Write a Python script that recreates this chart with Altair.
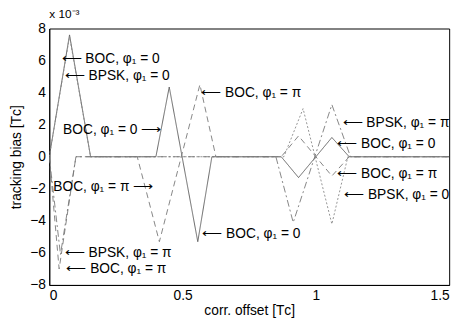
import altair as alt
import pandas as pd

# ---- data (values in units of 1e-3 T_C) ----
series_names = ["BOC0", "BOCpi", "BPSK0", "BPSKpi"]

boc0_x = [0, 0.076, 0.155, 0.40, 0.45, 0.557, 0.61, 0.87, 0.935, 1.06, 1.125, 1.5]
boc0_y = [0, 7.6, 0, 0, 4.35, -5.3, 0, 0, -1.3, 1.2, 0, 0]

bocpi_x = [0, 0.037, 0.10, 0.33, 0.413, 0.565, 0.625, 0.87, 0.935, 1.06, 1.125, 1.5]
bocpi_y = [0, -7.0, 0, 0, -5.3, 4.5, 0, 0, 1.3, -1.2, 0, 0]

bpsk0_x = [0, 0.076, 0.155, 0.88, 0.952, 1.06, 1.12, 1.5]
bpsk0_y = [0, 7.5, 0, 0, 3.0, -4.2, 0, 0]

bpskpi_x = [0, 0.042, 0.10, 0.85, 0.915, 1.06, 1.13, 1.5]
bpskpi_y = [0, -6.1, 0, 0, -4.1, 3.25, 0, 0]

x_ticks = [0, 0.5, 1, 1.5]
y_ticks = [-8, -6, -4, -2, 0, 2, 4, 6, 8]

ann_labels = [
    "⟵ BOC, φ₁ = 0", "⟵ BPSK, φ₁ = 0", "BOC, φ₁ = 0 ⟶", "⟵ BOC, φ₁ = π",
    "BOC, φ₁ = π ⟶", "⟵ BPSK, φ₁ = π", "⟵ BOC, φ₁ = π", "⟵ BOC, φ₁ = 0",
    "⟵ BPSK, φ₁ = π", "⟵ BOC, φ₁ = 0", "⟵ BOC, φ₁ = π", "⟵ BPSK, φ₁ = 0",
]
ann_x = [0.046, 0.058, 0.42, 0.570, 0.39, 0.058, 0.064, 0.574, 1.100, 1.080, 1.080, 1.106]
ann_y = [6.1, 5.05, 1.65, 4.0, -1.9, -6.0, -7.0, -4.85, 2.1, 0.8, -1.1, -2.4]
ann_align = ["left", "left", "right", "left", "right", "left", "left", "left",
             "left", "left", "left", "left"]

rows = []
for name, xs, ys in [("BOC0", boc0_x, boc0_y), ("BOCpi", bocpi_x, bocpi_y),
                     ("BPSK0", bpsk0_x, bpsk0_y), ("BPSKpi", bpskpi_x, bpskpi_y)]:
    for i, (x, y) in enumerate(zip(xs, ys)):
        rows.append({"series": name, "x": x, "y": y, "order": i})
lines_df = pd.DataFrame(rows)

ann_df = pd.DataFrame({"label": ann_labels, "x": ann_x, "y": ann_y, "align": ann_align})

xscale = alt.Scale(domain=[0, 1.5], nice=False, zero=False)
yscale = alt.Scale(domain=[-8, 8], nice=False)
xaxis = alt.Axis(values=x_ticks, title="corr. offset [Tᴄ]", labelOverlap=False,
                 labelExpr="datum.value == 0 ? '0' : format(datum.value, '')")
yaxis = alt.Axis(values=y_ticks, title="tracking bias [Tᴄ]", labelOverlap=False,
                 labelExpr="format(datum.value, 'd')")
X = alt.X("x:Q", scale=xscale, axis=xaxis)
Y = alt.Y("y:Q", scale=yscale, axis=yaxis)

lines = alt.Chart(lines_df).mark_line(strokeWidth=0.9, clip=True).encode(
    x=X, y=Y,
    detail="series:N",
    order="order:Q",
    color=alt.Color("series:N", legend=None,
                    scale=alt.Scale(domain=series_names,
                                    range=["#555555", "#777777", "#888888", "#777777"])),
    strokeDash=alt.StrokeDash("series:N", legend=None,
                              scale=alt.Scale(domain=series_names,
                                              range=[[1, 0], [6, 4], [2, 2], [7, 3, 2, 3]])),
)

txt_left = alt.Chart(ann_df).transform_filter("datum.align == 'left'").mark_text(
    align="left", baseline="middle", fontSize=14, font="Liberation Sans", color="black"
).encode(x=X, y=Y, text="label:N")

txt_right = alt.Chart(ann_df).transform_filter("datum.align == 'right'").mark_text(
    align="right", baseline="middle", fontSize=14, font="Liberation Sans", color="black"
).encode(x=X, y=Y, text="label:N")

chart = alt.layer(lines, txt_left, txt_right).properties(
    width=407, height=261,
    title=alt.TitleParams(text="x 10⁻³", anchor="start", frame="group", fontSize=12,
                          fontWeight="normal", font="Liberation Sans", offset=1,
                          color="black"),
    autosize=alt.AutoSizeParams(type="none"),
    padding={"left": 42, "top": 18, "right": 10, "bottom": 45},
).configure_view(stroke="black", strokeWidth=1).configure_axis(
    grid=False, domainColor="black", ticks=False, labelPadding=4, labelOverlap=False,
    labelFont="Liberation Sans", titleFont="Liberation Sans",
    labelFontSize=14, titleFontSize=14, labelColor="black", titleColor="black",
    titleFontWeight="normal",
).configure_axisY(titlePadding=6).configure_axisX(titlePadding=1)

chart.save("out.html", embed_options={"renderer": "svg", "actions": False})
